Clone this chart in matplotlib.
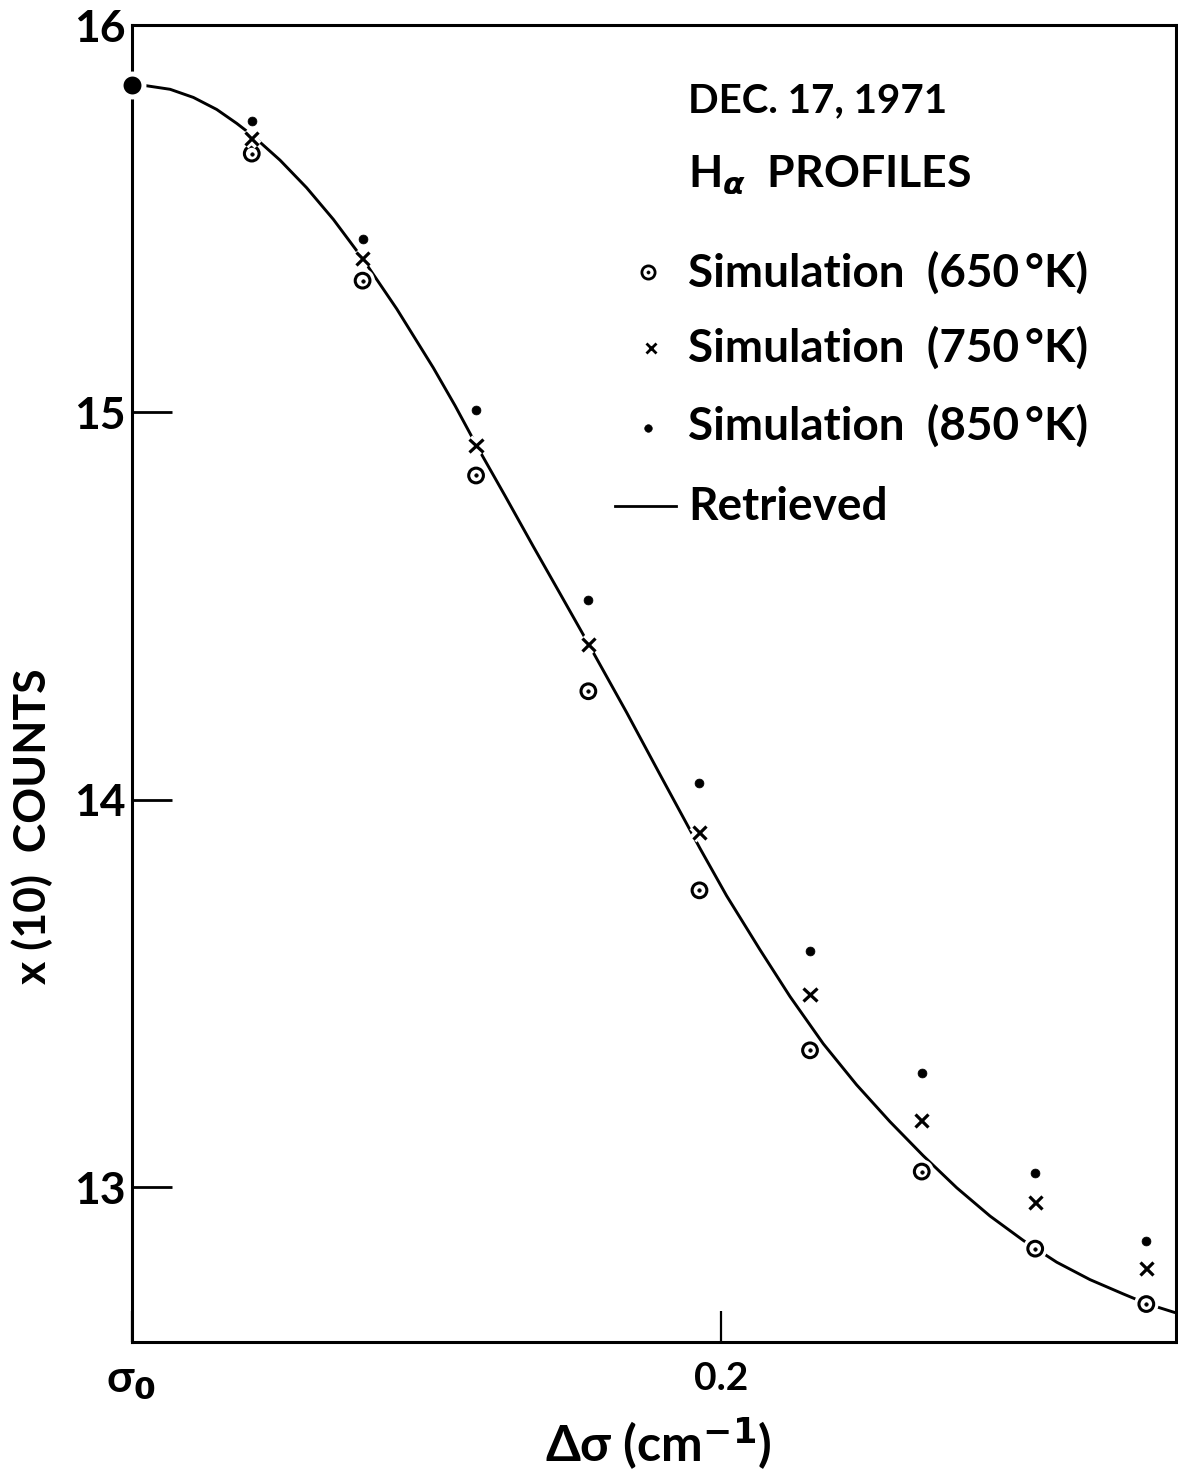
import matplotlib
matplotlib.use("Agg")
import matplotlib.pyplot as plt
import matplotlib.patheffects as pe
from matplotlib.lines import Line2D

plt.rcParams['font.family'] = ['Lato', 'DejaVu Sans']
plt.rcParams['font.weight'] = 'bold'
plt.rcParams['mathtext.fontset'] = 'dejavusans'

# Offset from the H-alpha line centre (cm^-1) at which the simulations were sampled
delta_sigma = [0.0408, 0.0784, 0.1169, 0.1550, 0.1927, 0.2302, 0.2681, 0.3066, 0.3443]
# Simulated profiles, counts x 10
sim_650 = [15.668, 15.340, 14.837, 14.280, 13.766, 13.353, 13.040, 12.841, 12.698]
sim_750 = [15.706, 15.398, 14.914, 14.401, 13.916, 13.497, 13.171, 12.961, 12.789]
sim_850 = [15.751, 15.448, 15.006, 14.515, 14.043, 13.609, 13.294, 13.037, 12.860]
# Common value at the line centre
center_sigma = 0.0
center_counts = 15.846

# Retrieved profile
retrieved_sigma = [0.0, 0.0052, 0.0131, 0.0210, 0.0289, 0.0357, 0.0413, 0.0504,
                   0.0594, 0.0685, 0.0784, 0.0900, 0.1024, 0.1098, 0.1171, 0.1267,
                   0.1363, 0.1454, 0.1552, 0.1680, 0.1793, 0.1929, 0.2019, 0.2132,
                   0.2234, 0.2347, 0.2460, 0.2573, 0.2686, 0.2800, 0.2913, 0.3026,
                   0.3139, 0.3252, 0.3365, 0.3444, 0.3540]
retrieved_counts = [15.846, 15.843, 15.834, 15.813, 15.782, 15.746, 15.713, 15.651,
                    15.580, 15.498, 15.397, 15.267, 15.115, 15.017, 14.914, 14.785,
                    14.654, 14.532, 14.400, 14.225, 14.065, 13.874, 13.752, 13.613,
                    13.492, 13.370, 13.264, 13.169, 13.081, 12.998, 12.925, 12.862,
                    12.806, 12.761, 12.724, 12.699, 12.676]

x_ticks = [0.0, 0.2]
x_tick_labels = [r'σ$_{\mathbf{0}}$', '0.2']
y_ticks = [13, 14, 15, 16]
y_tick_labels = ['13', '14', '15', '16']

legend_labels = ['Simulation  (650\u2009°K)', 'Simulation  (750\u2009°K)',
                 'Simulation  (850\u2009°K)', 'Retrieved']

W, H = 1178, 1470
fig = plt.figure(figsize=(W / 100, H / 100), dpi=100)
fig.patch.set_facecolor('white')


def fpos(px, py):
    return px / W, 1 - py / H


ax_left, ax_right, ax_top, ax_bottom = 131.5, 1175.5, 25.0, 1342.0
ax = fig.add_axes([ax_left / W, 1 - ax_bottom / H,
                   (ax_right - ax_left) / W, (ax_bottom - ax_top) / H])
ax.set_xlim(0.0, 0.3542)
ax.set_ylim(12.6, 16.0)

for side in ('left', 'right', 'top', 'bottom'):
    ax.spines[side].set_linewidth(2.2)
    ax.spines[side].set_color('black')

halo = [pe.withStroke(linewidth=7.0, foreground='white')]

ax.plot(retrieved_sigma, retrieved_counts, color='black', lw=2.1,
        solid_capstyle='round', solid_joinstyle='round', zorder=2)

ax.plot(delta_sigma, sim_650, linestyle='none', marker='o', ms=10.6,
        mfc='white', mec='black', mew=2.2, path_effects=halo, zorder=3)
ax.plot(delta_sigma, sim_650, linestyle='none', marker='o', ms=2.5,
        mfc='black', mec='black', mew=0.5, zorder=4)
ax.plot(delta_sigma, sim_750, linestyle='none', marker='x', ms=9.5,
        mec='black', mew=2.3, path_effects=halo, zorder=3)
ax.plot(delta_sigma, sim_850, linestyle='none', marker='o', ms=6.4,
        mfc='black', mec='black', mew=0.5, zorder=3)

ax.plot([center_sigma], [center_counts], linestyle='none', marker='o', ms=16.5,
        mfc='black', mec='white', mew=3.6, clip_on=False, zorder=6)

ax.set_xticks(x_ticks)
ax.set_xticklabels(x_tick_labels)
ax.set_yticks(y_ticks)
ax.set_yticklabels(y_tick_labels)
ax.tick_params(axis='y', direction='in', length=29, width=2.0, pad=4,
               labelsize=32, right=False)
ax.tick_params(axis='x', direction='in', length=22, width=1.6, pad=14,
               labelsize=28, top=False)
ax.get_xticklabels()[0].set_fontsize(32)

# Axis titles
fig.text(*fpos(32, 826), 'x (10)  COUNTS', rotation=90, ha='center',
         va='center', fontsize=32, fontweight='bold')
fig.text(*fpos(658, 1444), r'Δσ (cm$^{\mathbf{-1}}$)', ha='center',
         va='center', fontsize=36, fontweight='bold')

# Heading and key
text_x = 688
fig.text(*fpos(text_x, 112), 'DEC. 17, 1971', ha='left', va='baseline',
         fontsize=29, fontweight='bold')
fig.text(*fpos(text_x, 187), r'H$_{\alpha}$  PROFILES', ha='left',
         va='baseline', fontsize=32, fontweight='bold')

row_baselines = [287, 362, 440, 520]
for label, base in zip(legend_labels, row_baselines):
    fig.text(*fpos(text_x, base), label, ha='left', va='baseline',
             fontsize=33, fontweight='bold')

key_x = 648
fig.add_artist(Line2D([key_x / W], [1 - 272 / H], transform=fig.transFigure,
                      linestyle='none', marker='o', ms=9.5, mfc='white',
                      mec='black', mew=2.0))
fig.add_artist(Line2D([key_x / W], [1 - 272 / H], transform=fig.transFigure,
                      linestyle='none', marker='o', ms=2.3, mfc='black',
                      mec='black', mew=0.4))
fig.add_artist(Line2D([(key_x + 3) / W], [1 - 348 / H], transform=fig.transFigure,
                      linestyle='none', marker='x', ms=7.5, mec='black', mew=2.0))
fig.add_artist(Line2D([key_x / W], [1 - 428 / H], transform=fig.transFigure,
                      linestyle='none', marker='o', ms=5.5, mfc='black',
                      mec='black', mew=0.4))
fig.add_artist(Line2D([615 / W, 676 / W], [1 - 506 / H, 1 - 506 / H],
                      transform=fig.transFigure, color='black', lw=2.0))

fig.savefig('out.png', dpi=100, facecolor='white')
